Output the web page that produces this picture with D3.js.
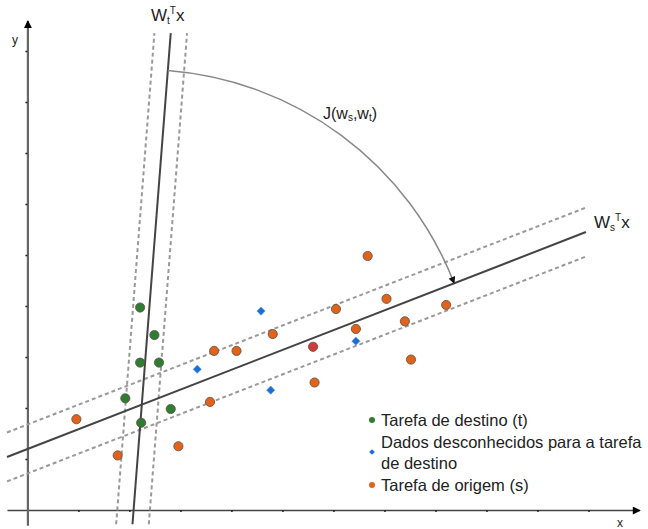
<!DOCTYPE html>
<html>
<head>
<meta charset="utf-8">
<script src="https://cdn.jsdelivr.net/npm/d3@7"></script>
<style>
  body { margin: 0; background: #fff; }
  text { font-family: "Liberation Sans", Arial, sans-serif; fill: #222; }
</style>
</head>
<body>
<div id="chart"></div>
<script>
var svgWidth = 648;
var svgHeight = 529;

// Data (data units, 1 tick = 1)
var xTicks = [1, 2, 3, 4, 5, 6, 7, 8, 9, 10, 11];
var yTicks = [1, 2, 3, 4, 5, 6, 7, 8, 9];

var targetX = [2.21, 2.49, 2.21, 2.58, 1.92, 2.81, 2.23];
var targetY = [3.97, 3.43, 2.89, 2.89, 2.19, 1.98, 1.71];

var unknownX = [4.58, 3.33, 4.77, 6.44];
var unknownY = [3.90, 2.76, 2.35, 3.31];

var sourceX = [0.96, 1.77, 2.96, 3.58, 3.66, 4.10, 4.81, 6.05, 6.67, 7.04, 6.44, 7.40, 8.21, 7.52, 5.63];
var sourceY = [1.78, 1.07, 1.25, 2.12, 3.12, 3.12, 3.45, 3.94, 4.98, 4.14, 3.55, 3.70, 4.02, 2.95, 2.50];

var highlightX = [5.60];
var highlightY = [3.20];

// Ws^T x line (ends) and its margin, Wt^T x line (ends) and its margin
var wsLineX = [-0.4, 10.95];
var wsLineY = [1.04, 5.45];
var wsMargin = 0.48;
var wtLineX = [2.06, 2.81];
var wtLineY = [-0.28, 9.35];
var wtMargin = 0.32;
var arcRadius = 6.57;

var legendLabels = ["Tarefa de destino (t)", "Dados desconhecidos para a tarefa", "de destino", "Tarefa de origem (s)"];

var svg = d3.select("#chart")
  .append("svg")
  .attr("width", svgWidth)
  .attr("height", svgHeight);

var defs = svg.append("defs");
defs.append("marker")
  .attr("id", "axisArrow")
  .attr("markerUnits", "userSpaceOnUse")
  .attr("viewBox", "0 0 10 10")
  .attr("markerWidth", 10).attr("markerHeight", 8)
  .attr("refX", 9).attr("refY", 5)
  .attr("orient", "auto")
  .append("path").attr("d", "M0,0L10,5L0,10z").attr("fill", "#000");
defs.append("marker")
  .attr("id", "arcArrow")
  .attr("markerUnits", "userSpaceOnUse")
  .attr("viewBox", "0 0 10 10")
  .attr("markerWidth", 8).attr("markerHeight", 7)
  .attr("refX", 9).attr("refY", 5)
  .attr("orient", "auto")
  .append("path").attr("d", "M0,0L10,5L0,10z").attr("fill", "#111");

// Scales
var xScale = d3.scaleLinear().domain([-0.4, 12]).range([7, 639.5]);
var yScale = d3.scaleLinear().domain([-0.3, 9.6]).range([525.3, 20.4]);

// Axes
var xAxis = svg.append("g")
  .attr("transform", `translate(0, ${yScale(0)})`)
  .call(d3.axisBottom(xScale).tickValues(xTicks).tickSize(2).tickSizeOuter(0).tickFormat(""));
xAxis.select(".domain").attr("stroke", "#444").attr("stroke-width", 1.5).attr("marker-end", "url(#axisArrow)");
xAxis.selectAll(".tick line").attr("stroke", "#222").attr("stroke-width", 1.5);

var yAxis = svg.append("g")
  .attr("transform", `translate(${xScale(0)}, 0)`)
  .call(d3.axisLeft(yScale).tickValues(yTicks).tickSize(2).tickSizeOuter(0).tickFormat(""));
yAxis.select(".domain").attr("stroke", "#666").attr("stroke-width", 2.2).attr("marker-end", "url(#axisArrow)");
yAxis.selectAll(".tick line").attr("stroke", "#222").attr("stroke-width", 1.5);

svg.append("text").attr("x", 12).attr("y", 44).attr("font-size", 12).text("y");
svg.append("text").attr("x", 617).attr("y", 527).attr("font-size", 12).text("x");

// Lines
var line = d3.line().x(d => xScale(d[0])).y(d => yScale(d[1]));

function drawLine(pts, dashed) {
  svg.append("path")
    .attr("d", line(pts))
    .attr("fill", "none")
    .attr("stroke", dashed ? "#999" : "#444")
    .attr("stroke-width", 2)
    .attr("stroke-dasharray", dashed ? "4,3" : null);
}

var ws = d3.zip(wsLineX, wsLineY);
var wt = d3.zip(wtLineX, wtLineY);
drawLine(ws.map(d => [d[0], d[1] + wsMargin]), true);
drawLine(ws.map(d => [d[0], d[1] - wsMargin]), true);
drawLine(wt.map(d => [d[0] - wtMargin, d[1]]), true);
drawLine(wt.map(d => [d[0] + wtMargin, d[1]]), true);
drawLine(ws, false);
drawLine(wt, false);

// Arc J(ws, wt) around the crossing point of the two lines
var sSlope = (wsLineY[1] - wsLineY[0]) / (wsLineX[1] - wsLineX[0]);
var sIcpt = wsLineY[0] - sSlope * wsLineX[0];
var tInv = (wtLineX[1] - wtLineX[0]) / (wtLineY[1] - wtLineY[0]);
var tIcpt = wtLineX[0] - tInv * wtLineY[0];
var cx = (tIcpt + tInv * sIcpt) / (1 - tInv * sSlope);
var cy = sIcpt + sSlope * cx;
var ns = Math.hypot(1, sSlope), nt = Math.hypot(tInv, 1);
var arcStart = [cx + arcRadius * tInv / nt, cy + arcRadius / nt];
var arcEnd = [cx + arcRadius / ns, cy + arcRadius * sSlope / ns];
var rPx = xScale(arcRadius) - xScale(0);

svg.append("path")
  .attr("d", `M${xScale(arcStart[0])},${yScale(arcStart[1])}A${rPx},${rPx} 0 0 1 ${xScale(arcEnd[0])},${yScale(arcEnd[1])}`)
  .attr("fill", "none")
  .attr("stroke", "#888")
  .attr("stroke-width", 1.5)
  .attr("marker-end", "url(#arcArrow)");

// Points
function drawDots(xs, ys, color) {
  svg.append("g").selectAll("circle")
    .data(d3.zip(xs, ys))
    .enter()
    .append("circle")
    .attr("cx", d => xScale(d[0]))
    .attr("cy", d => yScale(d[1]))
    .attr("r", 4.6)
    .attr("fill", color)
    .attr("stroke", "#5b4f45")
    .attr("stroke-width", 0.8);
}
drawDots(targetX, targetY, "#2e7d32");
drawDots(sourceX, sourceY, "#e0621b");
drawDots(highlightX, highlightY, "#d43a3a");

svg.append("g").selectAll("path")
  .data(d3.zip(unknownX, unknownY))
  .enter()
  .append("path")
  .attr("d", d3.symbol().type(d3.symbolSquare).size(34))
  .attr("transform", d => `translate(${xScale(d[0])}, ${yScale(d[1])}) rotate(45)`)
  .attr("fill", "#1a6fd6")
  .attr("stroke", "#5a9be6")
  .attr("stroke-width", 0.6);

// Labels
var wtLabel = svg.append("text").attr("x", 151).attr("y", 21).attr("font-size", 17);
wtLabel.append("tspan").text("W");
wtLabel.append("tspan").attr("font-size", 10).attr("dy", 3).text("t");
wtLabel.append("tspan").attr("font-size", 10).attr("dy", -10).text("T");
wtLabel.append("tspan").attr("dy", 7).text("x");

var wsLabel = svg.append("text").attr("x", 594).attr("y", 228).attr("font-size", 17);
wsLabel.append("tspan").text("W");
wsLabel.append("tspan").attr("font-size", 10).attr("dy", 3).text("s");
wsLabel.append("tspan").attr("font-size", 10).attr("dy", -10).text("T");
wsLabel.append("tspan").attr("dy", 7).text("x");

var jLabel = svg.append("text").attr("x", 323).attr("y", 119).attr("font-size", 16);
jLabel.append("tspan").text("J(w");
jLabel.append("tspan").attr("font-size", 10).attr("dy", 2).text("s");
jLabel.append("tspan").attr("dy", -2).text(",w");
jLabel.append("tspan").attr("font-size", 10).attr("dy", 2).text("t");
jLabel.append("tspan").attr("dy", -2).text(")");

// Legend
var legend = svg.append("g");
legend.append("circle").attr("cx", 372).attr("cy", 420).attr("r", 3).attr("fill", "#2e7d32");
legend.append("path")
  .attr("d", d3.symbol().type(d3.symbolSquare).size(16))
  .attr("transform", "translate(372, 452) rotate(45)")
  .attr("fill", "#1a6fd6");
legend.append("circle").attr("cx", 372).attr("cy", 485).attr("r", 3).attr("fill", "#e0621b");

var legendY = [425.5, 447.5, 469, 491];
legend.selectAll("text")
  .data(legendLabels)
  .enter()
  .append("text")
  .attr("x", 381)
  .attr("y", (d, i) => legendY[i])
  .attr("font-size", 16.5)
  .text(d => d);
</script>
</body>
</html>
